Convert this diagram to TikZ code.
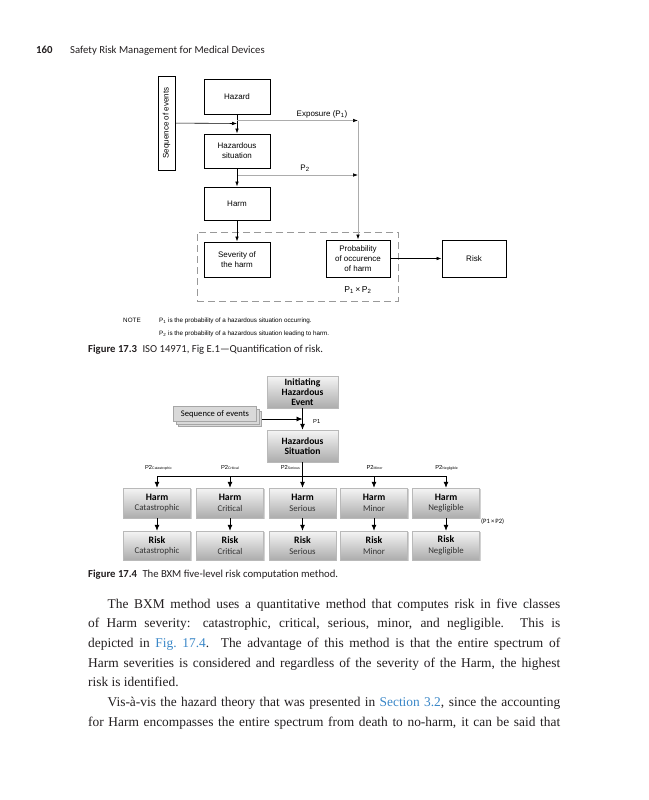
\documentclass[tikz,border=0pt]{standalone}
\usepackage{fontspec}
\setmainfont{Liberation Serif}
\newfontfamily\arialf{Liberation Sans}
\newfontfamily\calf{Carlito}
\usetikzlibrary{arrows.meta,shadows}
\definecolor{ink}{HTML}{231F20}
\definecolor{linkblue}{HTML}{3A87C8}
\begin{document}
\begin{tikzpicture}[x=1pt,y=-1pt,
  boxA/.style={draw, line width=1pt, inner sep=0, align=center, font=\arialf\fontsize{8}{9.8}\selectfont, minimum width=66pt},
  arrA/.style={-{Latex[length=5pt,width=3.6pt]}, line width=0.6pt},
  gline/.style={draw=gray!65, line width=0.7pt, -{Latex[length=5pt,width=3.6pt,color=black]}},
  lblA/.style={inner sep=0, font=\arialf\fontsize{8}{9}\selectfont},
  noteA/.style={inner sep=0, anchor=base west, font=\arialf\fontsize{6.3}{7}\selectfont},
  gbox/.style={draw=gray!55, line width=0.4pt, top color=gray!8, bottom color=gray!65, inner sep=0, align=center, minimum width=67pt, minimum height=30pt, drop shadow={shadow xshift=1.2pt, shadow yshift=-1.2pt, opacity=0.35, fill=gray}},
  seqbox/.style={draw=gray!70, line width=0.5pt, fill=gray!30, inner sep=0, minimum width=83pt, minimum height=15pt, font=\calf\fontsize{8.6}{10}\selectfont},
  arrB/.style={-{Latex[length=6pt,width=5pt]}, line width=0.8pt},
  ptwo/.style={inner sep=0, anchor=base, font=\arialf\fontsize{5.8}{6}\selectfont},
  capt/.style={inner sep=0, anchor=base west, font=\calf\fontsize{10.7}{12}\selectfont, text=ink},
  body/.style={inner sep=0, anchor=base west, font=\fontsize{13.4}{19.7}\selectfont, text=ink}
]
\useasboundingbox (0,0) rectangle (648,800);
\fill[white] (0,0) rectangle (648,800);

% ---------- header ----------
\node[capt, font=\calf\bfseries\fontsize{10.8}{12}\selectfont] (pg) at (36,54) {160};
\node[capt] (runhead) at (70,54) {Safety Risk Management for Medical Devices};

% ---------- Figure 17.3 ----------
\node[draw, dashed, dash pattern=on 7pt off 4pt, draw=gray!80, line width=0.6pt, minimum width=201pt, minimum height=69pt, inner sep=0] (grp) at (297.5,266.5) {};
\node[boxA, minimum height=35pt] (hazard) at (237,96.5) {Hazard};
\node[boxA, minimum height=34pt] (hs) at (237,151) {Hazardous\\situation};
\node[boxA, minimum height=33pt] (harm) at (237,203.5) {Harm};
\node[boxA, minimum height=35pt] (sev) at (237,259.5) {Severity of\\the harm};
\node[boxA, minimum width=64pt, minimum height=37pt] (prob) at (358,258.5) {Probability\\of occurence\\of harm};
\node[boxA, minimum width=64pt, minimum height=37pt] (risk) at (474,258.5) {Risk};
\node[boxA, rotate=90, minimum width=94pt, minimum height=17pt] (seq) at (166.5,123) {Sequence of events};

\coordinate (j1) at (237,123.5);
\coordinate (e1) at (237,120.5);
\coordinate (e2) at (prob.north |- e1);
\coordinate (p2a) at (237,175);
\coordinate (p2b) at (prob.north |- p2a);

\draw[arrA] (hazard) -- (hs);
\draw[arrA] (seq) -- (j1);
\draw[gline] (e1) -- (e2);
\draw[gline] (e2) -- (prob.north);
\draw[gline] (p2a) -- (p2b);
\draw[arrA] (hs) -- (harm);
\draw[arrA] (harm) -- (sev);
\draw[arrA] (prob) -- (risk);

\node[lblA, anchor=base] (explbl) at (322,116) {Exposure (P\textsubscript{1})};
\node[lblA, anchor=base] (p2lbl) at (305,170) {P\textsubscript{2}};
\node[lblA, anchor=base, font=\arialf\fontsize{8.6}{9}\selectfont] (pxp) at (358,292) {P\textsubscript{1}\,×\,P\textsubscript{2}};

\node[noteA] (note) at (123,322.5) {NOTE};
\node[noteA] (note1) at (159,322.5) {P\textsubscript{1} is the probability of a hazardous situation occurring.};
\node[noteA] (note2) at (159,335) {P\textsubscript{2} is the probability of a hazardous situation leading to harm.};

\node[capt] (cap173) at (88,352) {\textbf{Figure 17.3}\enspace ISO 14971, Fig E.1—Quantification of risk.};

% ---------- Figure 17.4 ----------
\node[gbox, minimum width=71pt, minimum height=32pt, font=\calf\bfseries\fontsize{9.6}{10.2}\selectfont] (ihe) at (302.5,392) {Initiating\\Hazardous\\Event};
\node[gbox, minimum width=71pt, minimum height=32pt, font=\calf\bfseries\fontsize{9.6}{10.4}\selectfont] (hsit) at (302.5,446) {Hazardous\\Situation};

\node[seqbox] (seqc) at (220,419) {};
\node[seqbox] (seqb) at (217.5,416.5) {};
\node[seqbox] (seqa) at (215,414) {Sequence of events};

\coordinate (p1j) at (302.5,419);
\draw[arrB] (seqc.east) -- (p1j);
\draw[arrB] (ihe) -- (hsit);
\node[ptwo, anchor=base west] (p1lbl) at (313,423) {P1};

\foreach \i/\x/\sev in {1/157/Catastrophic,2/230/Critical,3/302.5/Serious,4/374/Minor,5/446/Negligible}{
  \node[gbox, font=\calf\fontsize{8.8}{10.4}\selectfont] (h\i) at (\x,503) {\textbf{\fontsize{9.8}{10.4}\selectfont Harm}\\\textcolor{black!80}{\sev}};
  \node[gbox, minimum height=29pt, font=\calf\fontsize{8.8}{10.4}\selectfont] (r\i) at (\x,545.5) {\textbf{\fontsize{9.8}{10.4}\selectfont Risk}\\\textcolor{black!80}{\sev}};
  \draw[arrB] (h\i) -- (r\i);
}
\coordinate (bus) at (302.5,476);
\draw[line width=0.8pt] (h1.north |- bus) -- (h5.north |- bus);
\draw[arrB] (hsit) -- (h3);
\foreach \i in {1,2,4,5}{ \draw[arrB] (h\i.north |- bus) -- (h\i.north); }

\newcommand\ptsub[1]{\raisebox{-0.8pt}{\fontsize{3.5}{4}\selectfont #1}}
\node[ptwo] (pc) at (158.5,469) {P2\ptsub{Catastrophic}};
\node[ptwo] (pcr) at (230,469) {P2\ptsub{Critical}};
\node[ptwo, anchor=base east] (pse) at (300,469) {P2\ptsub{Serious}};
\node[ptwo] (pmi) at (374.5,469) {P2\ptsub{Minor}};
\node[ptwo] (pne) at (446.5,469) {P2\ptsub{Negligible}};

\node[inner sep=0, anchor=base west, font=\calf\fontsize{6.6}{7}\selectfont] (p1p2) at (481,523) {(P1\,×\,P2)};

\node[capt] (cap174) at (88,577) {\textbf{Figure 17.4}\enspace The BXM five-level risk computation method.};

% ---------- body text ----------
\node[body] (l1) at (107.5,608) {\makebox[452.5pt][s]{The BXM method uses a quantitative method that computes risk in five classes}};
\node[body] (l2) at (88,627.7) {\makebox[472pt][s]{of Harm severity: catastrophic, critical, serious, minor, and negligible. This is}};
\node[body] (l3) at (88,647.4) {\makebox[472pt][s]{depicted in \textcolor{linkblue}{Fig.~17.4}. The advantage of this method is that the entire spectrum of}};
\node[body] (l4) at (88,667.1) {\makebox[472pt][s]{Harm severities is considered and regardless of the severity of the Harm, the highest}};
\node[body] (l5) at (88,686.8) {risk is identified.};
\node[body] (l6) at (107.5,706.5) {\makebox[452.5pt][s]{Vis-à-vis the hazard theory that was presented in \textcolor{linkblue}{Section 3.2}, since the accounting}};
\node[body] (l7) at (88,726.2) {\makebox[472pt][s]{for Harm encompasses the entire spectrum from death to no-harm, it can be said that}};
\end{tikzpicture}
\end{document}
